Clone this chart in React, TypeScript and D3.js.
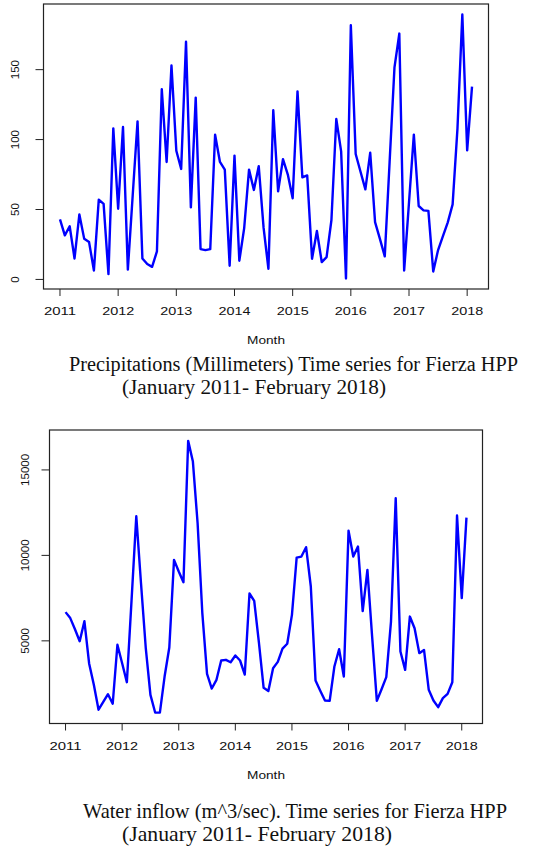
import { useEffect, useRef } from "react";
import * as d3 from "d3";

// monthly series, January 2011 .. February 2018
const startYear = 2011;
const yearTicks = [2011, 2012, 2013, 2014, 2015, 2016, 2017, 2018];

const precipitation = [
  43, 31.5, 38, 15, 46.5, 29, 26.7, 6.4, 57, 54, 3.8, 108,
  50.5, 109, 7, 60, 113, 15, 11, 9, 20, 136, 84, 153,
  92, 79, 170, 51.5, 130, 21.7, 21, 21.7, 103.5, 84, 78.5, 9.8,
  88.5, 13.4, 36.7, 78.5, 64, 81, 37, 7.6, 121, 63, 86, 75,
  58, 134.5, 73, 74.4, 14.8, 34.6, 12.4, 16, 42.5, 114.7, 91.6, 0.7,
  181.7, 89.7, 77, 64.4, 90.6, 41, 29, 16.5, 84, 151.4, 175.8, 6.4,
  55, 103.5, 52.5, 49.4, 49, 5.7, 21, 31, 40.8, 53.7, 108, 189.4,
  92.3, 137.8,
];
const precipTicks = [0, 50, 100, 150];

const inflow = [
  6680, 6330, 5680, 4980, 6150, 3680, 2430, 970, 1430, 1880, 1320, 4770,
  3690, 2580, 7400, 12290, 8370, 4610, 1840, 805, 800, 2910, 4610, 9740,
  9060, 8430, 16700, 15490, 11880, 6620, 3070, 2210, 2720, 3850, 3890, 3750,
  4140, 3850, 3030, 7770, 7340, 4900, 2250, 2060, 3400, 3770, 4550, 4830,
  6520, 9870, 9930, 10480, 8180, 2680, 2080, 1510, 1490, 3500, 4510, 2910,
  11450, 9930, 10520, 6740, 9150, 5250, 1490, 2170, 2880, 6130, 13340, 4380,
  3300, 6420, 5740, 4280, 4470, 2140, 1510, 1120, 1650, 1900, 2580, 12330,
  7500, 12210,
];
const inflowTicks = [5000, 10000, 15000];

const captions1 = [
  "Precipitations (Millimeters) Time series for Fierza HPP",
  "(January 2011- February 2018)",
];
const captions2 = [
  "Water inflow (m^3/sec). Time series for Fierza HPP",
  "(January 2011- February 2018)",
];

type Panel = {
  values: number[];
  yTicks: number[];
  box: { left: number; right: number; top: number; bottom: number };
  yLabelX: number;
  xLabelY: number;
  monthY: number;
  captions: string[];
  captionX: number[];
  captionY: number[];
  captionW: number[];
  captionSize: number;
};

// R style 4% padding around the data range
const padded = (lo: number, hi: number) => {
  const d = (hi - lo) * 0.04;
  return [lo - d, hi + d];
};

const drawPanel = (svg: d3.Selection<SVGSVGElement, unknown, null, undefined>, p: Panel) => {
  const series = p.values.map((v, i) => ({ t: startYear + i / 12, v }));
  const tExt = d3.extent(series, (d) => d.t) as [number, number];
  const vExt = d3.extent(series, (d) => d.v) as [number, number];

  const x = d3.scaleLinear().domain(padded(tExt[0], tExt[1])).range([p.box.left, p.box.right]);
  const y = d3.scaleLinear().domain(padded(vExt[0], vExt[1])).range([p.box.bottom, p.box.top]);

  const g = svg.append("g");

  // frame
  g.append("rect")
    .attr("x", p.box.left)
    .attr("y", p.box.top)
    .attr("width", p.box.right - p.box.left)
    .attr("height", p.box.bottom - p.box.top)
    .attr("fill", "none")
    .attr("stroke", "#222")
    .attr("stroke-width", 1.2);

  // x ticks
  g.selectAll(".xt")
    .data(yearTicks)
    .enter()
    .append("line")
    .attr("x1", (d) => x(d))
    .attr("x2", (d) => x(d))
    .attr("y1", p.box.bottom)
    .attr("y2", p.box.bottom + 7)
    .attr("stroke", "#222");

  g.selectAll(".xl")
    .data(yearTicks)
    .enter()
    .append("text")
    .attr("x", (d) => x(d))
    .attr("y", p.xLabelY)
    .attr("text-anchor", "middle")
    .attr("textLength", 32)
    .attr("lengthAdjust", "spacingAndGlyphs")
    .style("font-family", "'Liberation Sans', Arial, sans-serif")
    .style("font-size", "10px")
    .attr("fill", "#111")
    .text((d) => d);

  // y ticks
  g.selectAll(".yt")
    .data(p.yTicks)
    .enter()
    .append("line")
    .attr("x1", p.box.left - 8)
    .attr("x2", p.box.left)
    .attr("y1", (d) => y(d))
    .attr("y2", (d) => y(d))
    .attr("stroke", "#222");

  g.selectAll(".yl")
    .data(p.yTicks)
    .enter()
    .append("text")
    .attr("transform", (d) => `translate(${p.yLabelX}, ${y(d)}) rotate(-90)`)
    .attr("text-anchor", "middle")
    .style("font-family", "'Liberation Sans', Arial, sans-serif")
    .style("font-size", "11.5px")
    .attr("fill", "#111")
    .text((d) => d);

  g.append("text")
    .attr("x", (p.box.left + p.box.right) / 2)
    .attr("y", p.monthY)
    .attr("text-anchor", "middle")
    .attr("textLength", 38)
    .attr("lengthAdjust", "spacingAndGlyphs")
    .style("font-family", "'Liberation Sans', Arial, sans-serif")
    .style("font-size", "10px")
    .attr("fill", "#111")
    .text("Month");

  const line = d3
    .line<{ t: number; v: number }>()
    .x((d) => x(d.t))
    .y((d) => y(d.v));

  g.append("path")
    .datum(series)
    .attr("fill", "none")
    .attr("stroke", "#0000ff")
    .attr("stroke-width", 2.4)
    .attr("stroke-linejoin", "round")
    .attr("d", line);

  p.captions.forEach((c, i) => {
    g.append("text")
      .attr("x", p.captionX[i])
      .attr("y", p.captionY[i])
      .attr("textLength", p.captionW[i])
      .attr("lengthAdjust", "spacingAndGlyphs")
      .style("font-family", "'Liberation Serif', 'Times New Roman', serif")
      .style("font-size", `${p.captionSize}px`)
      .attr("fill", "#111")
      .text(c);
  });
};

export default function App() {
  const ref = useRef<SVGSVGElement>(null);

  useEffect(() => {
    const svg = d3.select(ref.current as SVGSVGElement);
    svg.selectAll("*").remove();

    drawPanel(svg, {
      values: precipitation,
      yTicks: precipTicks,
      box: { left: 43.5, right: 488.5, top: 4, bottom: 289 },
      yLabelX: 18.5,
      xLabelY: 314.5,
      monthY: 344,
      captions: captions1,
      captionX: [69, 122],
      captionY: [371, 394],
      captionW: [449, 264],
      captionSize: 20,
    });

    drawPanel(svg, {
      values: inflow,
      yTicks: inflowTicks,
      box: { left: 49.5, right: 482.5, top: 430, bottom: 723.5 },
      yLabelX: 28.5,
      xLabelY: 750,
      monthY: 779,
      captions: captions2,
      captionX: [83, 122],
      captionY: [818, 841],
      captionW: [424, 270],
      captionSize: 21,
    });
  }, []);

  return (
    <svg
      ref={ref}
      width={538}
      height={848}
      style={{ position: "absolute", left: 0, top: 0, background: "#fff" }}
    />
  );
}
